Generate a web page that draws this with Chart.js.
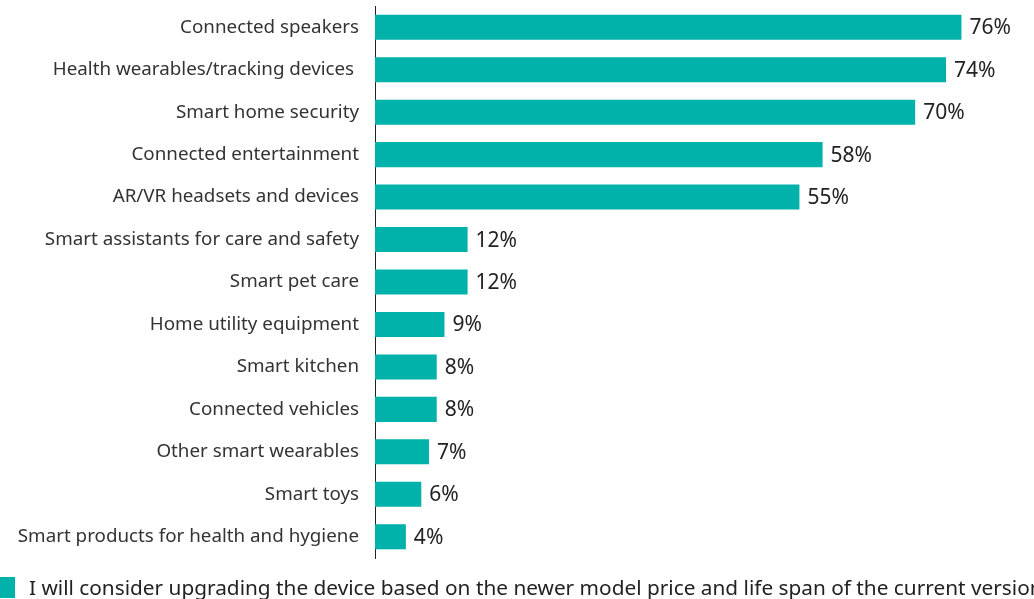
<!DOCTYPE html>
<html>
<head>
<meta charset="utf-8">
<script src="https://cdn.jsdelivr.net/npm/chart.js@4.4.1/dist/chart.umd.min.js"></script>
<style>
  html, body { margin: 0; padding: 0; background: #fff; }
  #wrap { width: 1034px; height: 599px; }
</style>
</head>
<body>
<div id="wrap"><canvas id="grafico"></canvas></div>
<script>
// data
const categorias = [
  "Connected speakers",
  "Health wearables/tracking devices ",
  "Smart home security",
  "Connected entertainment",
  "AR/VR headsets and devices",
  "Smart assistants for care and safety",
  "Smart pet care",
  "Home utility equipment",
  "Smart kitchen",
  "Connected vehicles",
  "Other smart wearables",
  "Smart toys",
  "Smart products for health and hygiene"
];
const valores = [76, 74, 70, 58, 55, 12, 12, 9, 8, 8, 7, 6, 4];
const serieNome = "I will consider upgrading the device based on the newer model price and life span of the current version";

const FONTE = "'Noto Sans', 'Open Sans', sans-serif";
const TEAL = "#00b2a9";

// rótulos de valor no fim de cada barra
const rotulos = {
  id: "rotulos",
  afterDatasetsDraw(chart) {
    const ctx = chart.ctx;
    const meta = chart.getDatasetMeta(0);
    ctx.save();
    ctx.font = "21px " + FONTE;
    ctx.fillStyle = "#222";
    ctx.textAlign = "left";
    ctx.textBaseline = "middle";
    meta.data.forEach((bar, i) => {
      ctx.fillText(valores[i] + "%", bar.x + 8, bar.y + 1);
    });
    ctx.restore();
  }
};

// legenda embaixo, colada na esquerda (sai da tela como no original)
const legenda = {
  id: "legenda",
  afterDraw(chart) {
    const ctx = chart.ctx;
    const ds = chart.data.datasets[0];
    ctx.save();
    ctx.fillStyle = ds.backgroundColor;
    ctx.fillRect(0, 577, 15, 21);
    ctx.font = "20.8px " + FONTE;
    ctx.fillStyle = "#222";
    ctx.textAlign = "left";
    ctx.textBaseline = "alphabetic";
    ctx.fillText(ds.label, 29, 595);
    ctx.restore();
  }
};

new Chart(document.getElementById("grafico"), {
  type: "bar",
  data: {
    labels: categorias,
    datasets: [{
      label: serieNome,
      data: valores,
      backgroundColor: TEAL,
      borderWidth: 0,
      categoryPercentage: 1,
      barPercentage: 0.59
    }]
  },
  options: {
    indexAxis: "y",
    responsive: true,
    maintainAspectRatio: false,
    animation: false,
    layout: { padding: { top: 6, right: 0, left: 0, bottom: 41 } },
    plugins: {
      legend: { display: false },
      tooltip: { enabled: false }
    },
    scales: {
      x: { display: false, min: 0, max: 85.4 },
      y: {
        afterFit(scale) {
          scale.width = 375;
          scale.paddingTop = 0;
          scale.paddingBottom = 0;
        },
        grid: { display: false, drawTicks: false },
        border: { display: true, color: "#222", width: 1 },
        ticks: {
          color: "#333",
          padding: 16,
          font: { family: FONTE, size: 18.8 }
        }
      }
    }
  },
  plugins: [rotulos, legenda]
});
</script>
</body>
</html>
